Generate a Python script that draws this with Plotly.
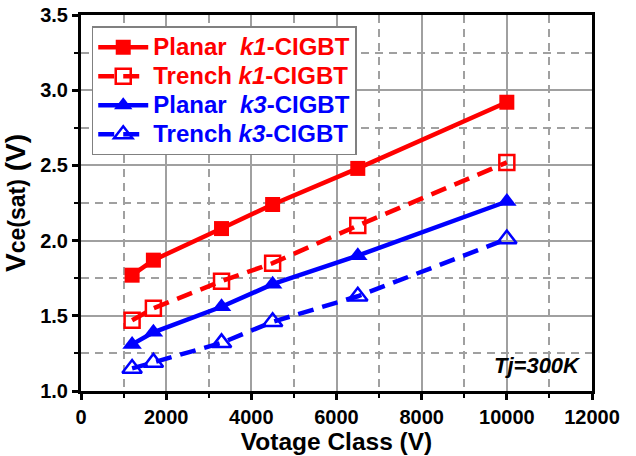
import plotly.graph_objects as go

# Voltage classes (V) and saturation voltages (V)
voltage_class = [1200, 1700, 3300, 4500, 6500, 10000]
planar_k1 = [1.77, 1.87, 2.08, 2.24, 2.48, 2.92]
trench_k1 = [1.47, 1.55, 1.73, 1.85, 2.10, 2.52]
planar_k3 = [1.31, 1.39, 1.56, 1.71, 1.90, 2.26]
trench_k3 = [1.15, 1.19, 1.32, 1.46, 1.63, 2.01]

series_names = [
    "Planar\u00a0\u00a0<i>k1</i>-CIGBT",
    "Trench <i>k1</i>-CIGBT",
    "Planar\u00a0\u00a0<i>k3</i>-CIGBT",
    "Trench <i>k3</i>-CIGBT",
]

x_range = [0, 12000]
y_range = [1.0, 3.5]

RED = "#FF0000"
BLUE = "#0000FF"
GRID = "#a0a0a0"
FONT = "Arial, 'Liberation Sans', sans-serif"

styles = [
    (planar_k1, RED, "solid", "square"),
    (trench_k1, RED, "dash", "square-open"),
    (planar_k3, BLUE, "solid", "triangle-up"),
    (trench_k3, BLUE, "dash", "triangle-up-open"),
]

fig = go.Figure()
for name, (vals, color, dash, symbol) in zip(series_names, styles):
    is_open = symbol.endswith("open")
    is_tri = symbol.startswith("triangle")
    fig.add_trace(go.Scatter(
        x=voltage_class, y=vals, mode="lines+markers",
        name=f"<span style='color:{color};font-size:24px'><b>{name}</b></span>",
        line=dict(color=color, width=4.5, dash="16px,9px" if dash == "dash" else "solid"),
        marker=dict(symbol=symbol, size=17 if is_tri else 15, color=color,
                    line=dict(color=color, width=2.5 if is_open else 0)),
    ))

tick_font = dict(family=FONT, size=20, color="black", weight="bold")

# bottom / left axes: labelled, ticks pointing outward, with the grid
fig.update_layout(
    xaxis=dict(
        range=x_range, tick0=0, dtick=2000, tickformat="d", automargin=False,
        showline=True, linecolor="black", linewidth=3, mirror=True,
        ticks="outside", ticklen=6, tickwidth=2.5, tickcolor="black",
        showgrid=True, gridcolor=GRID, gridwidth=1.5, zeroline=False,
        tickfont=tick_font,
        minor=dict(dtick=1000, ticks="outside", ticklen=4, tickwidth=2, tickcolor="black",
                   showgrid=True, gridcolor=GRID, gridwidth=1.5, griddash="8px,6px"),
        title=dict(text="<b>Votage Class (V)</b>",
                   font=dict(family=FONT, size=24.5, color="black"), standoff=4),
    ),
    yaxis=dict(
        range=y_range, tick0=1.0, dtick=0.5, tickformat=".1f", automargin=False,
        showline=True, linecolor="black", linewidth=3, mirror=True,
        ticks="outside", ticklen=6, tickwidth=2.5, tickcolor="black",
        showgrid=True, gridcolor=GRID, gridwidth=1.5, zeroline=False,
        tickfont=tick_font,
        minor=dict(dtick=0.25, ticks="outside", ticklen=4, tickwidth=2, tickcolor="black",
                   showgrid=True, gridcolor=GRID, gridwidth=1.5, griddash="8px,6px"),
        title=dict(text="<b>V<span style='font-size:23px'>ce(sat)</span> (V)</b>",
                   font=dict(family=FONT, size=28, color="black"), standoff=8),
    ),
    # top / right axes: unlabelled, ticks pointing inward
    xaxis2=dict(
        range=x_range, overlaying="x", side="top", anchor="y", automargin=False,
        tick0=0, dtick=2000, showticklabels=False, showgrid=False, zeroline=False,
        ticks="inside", ticklen=6, tickwidth=2.5, tickcolor="black",
        minor=dict(dtick=1000, ticks="inside", ticklen=4, tickwidth=2, tickcolor="black"),
    ),
    yaxis2=dict(
        range=y_range, overlaying="y", side="right", anchor="x", automargin=False,
        tick0=1.0, dtick=0.5, showticklabels=False, showgrid=False, zeroline=False,
        ticks="inside", ticklen=6, tickwidth=2.5, tickcolor="black",
        minor=dict(dtick=0.25, ticks="inside", ticklen=4, tickwidth=2, tickcolor="black"),
    ),
)

fig.add_annotation(
    x=0.982, y=0.03, xref="paper", yref="paper", xanchor="right", yanchor="bottom",
    text="<b><i>Tj=300K</i></b>", showarrow=False,
    font=dict(family=FONT, size=22, color="black"),
)

fig.update_layout(
    width=636, height=456,
    margin=dict(l=81, r=44, t=15, b=65, autoexpand=False),
    paper_bgcolor="white", plot_bgcolor="white",
    showlegend=True,
    legend=dict(
        x=0.021, y=0.97, xanchor="left", yanchor="top",
        bgcolor="white", bordercolor="#808080", borderwidth=1.5,
        font=dict(family=FONT, size=20, color="black"),
        itemwidth=50, tracegroupgap=0,
    ),
)

fig.write_html("out.html")
